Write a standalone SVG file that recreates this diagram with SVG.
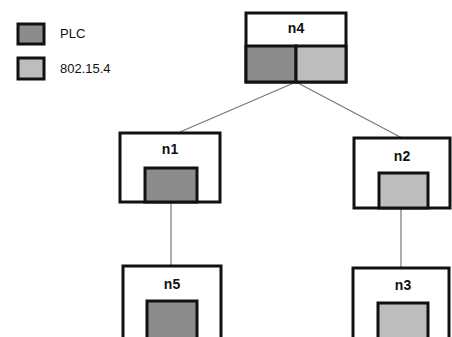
<svg xmlns="http://www.w3.org/2000/svg" width="452" height="337" viewBox="0 0 452 337">
<style>
.box{fill:#fff;stroke:#111;stroke-width:3}
.plc{fill:#8c8c8c;stroke:#111;stroke-width:3}
.zb{fill:#bdbdbd;stroke:#111;stroke-width:3}
.lbl{font-family:"Liberation Sans",Arial,sans-serif;font-size:14px;font-weight:bold;fill:#111;text-anchor:middle}
.leg{font-family:"Liberation Sans",Arial,sans-serif;font-size:13px;fill:#111}
.conn{stroke:#777;stroke-width:1.2;fill:none}
</style>
<rect width="452" height="337" fill="#fff"/>
<g id="legend">
<rect class="plc" x="18" y="24" width="26" height="20" stroke-width="2.5"/>
<text class="leg" x="60" y="38">PLC</text>
<rect class="zb" x="18" y="58" width="26" height="21" stroke-width="2.5"/>
<text class="leg" x="60" y="73">802.15.4</text>
</g>
<g id="connectors">
<line class="conn" x1="296" y1="82" x2="180" y2="132"/>
<line class="conn" x1="296" y1="82" x2="402" y2="138"/>
<line class="conn" x1="171" y1="202" x2="171" y2="265"/>
<line class="conn" x1="401" y1="208" x2="401" y2="267"/>
</g>
<g id="n4">
<rect class="box" x="246" y="13" width="100" height="69"/>
<rect class="plc" x="246" y="46" width="50" height="36"/>
<rect class="zb" x="296" y="46" width="50" height="36"/>
<text class="lbl" x="296" y="33">n4</text>
</g>
<g id="n1">
<rect class="box" x="120" y="133" width="100" height="69"/>
<rect class="plc" x="145" y="168" width="52" height="34"/>
<text class="lbl" x="170" y="154">n1</text>
</g>
<g id="n2">
<rect class="box" x="354" y="138" width="96" height="70"/>
<rect class="zb" x="379" y="173" width="49" height="35"/>
<text class="lbl" x="402" y="161">n2</text>
</g>
<g id="n5">
<rect class="box" x="123" y="266" width="98" height="74"/>
<rect class="plc" x="147" y="301" width="50" height="39"/>
<text class="lbl" x="172" y="289">n5</text>
</g>
<g id="n3">
<rect class="box" x="353" y="268" width="96" height="72"/>
<rect class="zb" x="378" y="303" width="50" height="37" fill="#c8c8c8"/>
<text class="lbl" x="403" y="290">n3</text>
</g>
</svg>
